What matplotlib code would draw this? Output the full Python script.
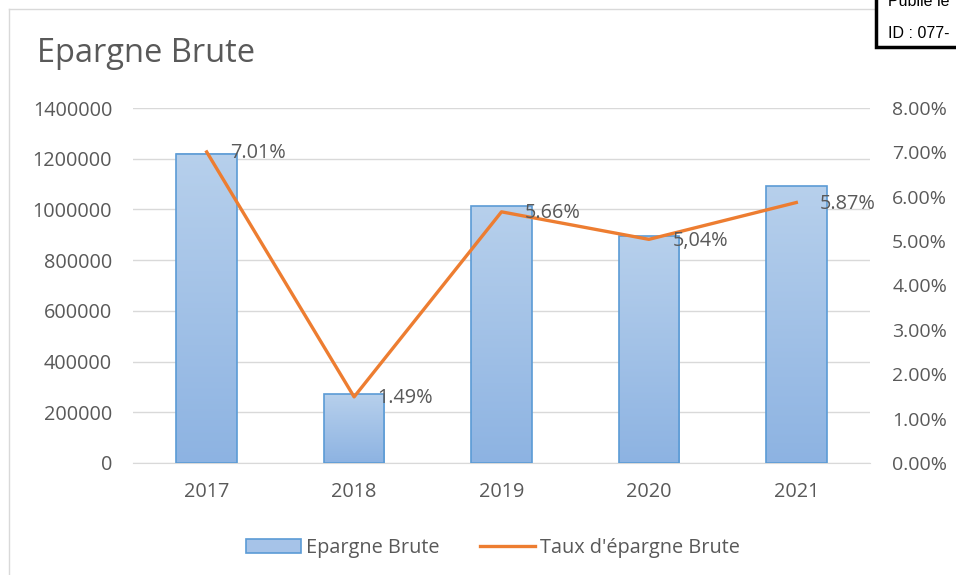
import matplotlib
matplotlib.use("Agg")
import matplotlib.pyplot as plt
import numpy as np
from matplotlib.patches import Rectangle
from matplotlib.lines import Line2D
from matplotlib.colors import LinearSegmentedColormap

years = ["2017", "2018", "2019", "2020", "2021"]
epargne = [1220000, 272000, 1013000, 895000, 1092000]
taux = [7.01, 1.49, 5.66, 5.04, 5.87]
taux_labels = ["7.01%", "1.49%", "5.66%", "5,04%", "5.87%"]
left_ticks = [0, 200000, 400000, 600000, 800000, 1000000, 1200000, 1400000]
right_ticks = [0, 1, 2, 3, 4, 5, 6, 7, 8]

plt.rcParams['font.family'] = ['Open Sans', 'DejaVu Sans']
gray = '#595959'
fs = 14.3

fig = plt.figure(figsize=(9.56, 5.75), dpi=100)
W, H = 956, 575
ax = fig.add_axes([133/W, 1-463/H, (870-133)/W, (463-108)/H])
ax2 = ax.twinx()

x = np.arange(len(years))
bars = ax.bar(x, epargne, width=0.41, color='none', edgecolor='#5b9bd5', linewidth=1.2, zorder=3)
cmap = LinearSegmentedColormap.from_list('g', ['#8db3e2', '#b7d0ec'])
grad = np.linspace(0, 1, 256).reshape(-1, 1)
for b in bars:
    bx, by, bw, bh = b.get_x(), b.get_y(), b.get_width(), b.get_height()
    ax.imshow(grad, extent=[bx, bx+bw, by, by+bh], origin='lower', cmap=cmap,
              aspect='auto', zorder=2)
ax.set_xlim(-0.5, len(years)-0.5)
ax.set_ylim(0, 1400000)
ax.set_yticks(left_ticks)
ax.set_yticklabels([str(v) for v in left_ticks])
ax.set_xticks(x)
ax.set_xticklabels(years)
ax.yaxis.grid(True, color='#d9d9d9', linewidth=1, zorder=0)
ax.set_axisbelow(True)
for s in ['top', 'right', 'left']:
    ax.spines[s].set_visible(False)
ax.spines['bottom'].set_color('#d9d9d9')
ax.tick_params(axis='both', length=0, colors=gray, labelsize=fs)
ax.tick_params(axis='y', pad=15)
ax.tick_params(axis='x', pad=14)

ax2.plot(x, taux, color='#ed7d31', linewidth=2.4, zorder=5)
ax2.set_ylim(0, 8)
ax2.set_yticks(right_ticks)
ax2.set_yticklabels([f"{v:.2f}%" for v in right_ticks])
for s in ['top', 'right', 'left', 'bottom']:
    ax2.spines[s].set_visible(False)
ax2.tick_params(axis='y', length=0, colors=gray, labelsize=14, pad=16)
for xi, t, lab in zip(x, taux, taux_labels):
    ax2.annotate(lab, (xi, t), xytext=(17, -1), textcoords='offset points',
                 ha='left', va='center', color=gray, fontsize=fs, zorder=6)
ax.set_xlim(-0.5, len(years)-0.5)

fig.text(37/W, 1-54/H, "Epargne Brute", fontsize=23.5, color=gray, ha='left', va='center')

# chart area frame
fig.add_artist(Line2D([9/W, 9/W], [0, 1-9/H], transform=fig.transFigure, color='#d9d9d9', lw=1))
fig.add_artist(Line2D([9/W, 1], [1-9/H, 1-9/H], transform=fig.transFigure, color='#d9d9d9', lw=1))

# stamp box
fig.add_artist(Rectangle((876/W, 1-47/H), 0.2, 0.2, transform=fig.transFigure,
                         facecolor='white', edgecolor='black', lw=2.5, zorder=10))
fig.text(888/W, 1-1/H, "Publié le", fontsize=11.5, color='black', family='Liberation Sans',
         ha='left', va='center', zorder=11)
fig.text(888/W, 1-33/H, "ID : 077-", fontsize=11.5, color='black', family='Liberation Sans',
         ha='left', va='center', zorder=11)

handles = [Rectangle((0, 0), 1, 1, facecolor='#a6c3e8', edgecolor='#5b9bd5', lw=1.2),
           Line2D([0], [0], color='#ed7d31', lw=2.4)]
fig.legend(handles, ["Epargne Brute", "Taux d'épargne Brute"], loc='center',
           bbox_to_anchor=(493/W, 1-548/H), ncol=2, frameon=False, fontsize=fs,
           labelcolor=gray, handlelength=2.8, handletextpad=0.25, columnspacing=2.0)

fig.savefig("out.png", dpi=100)
